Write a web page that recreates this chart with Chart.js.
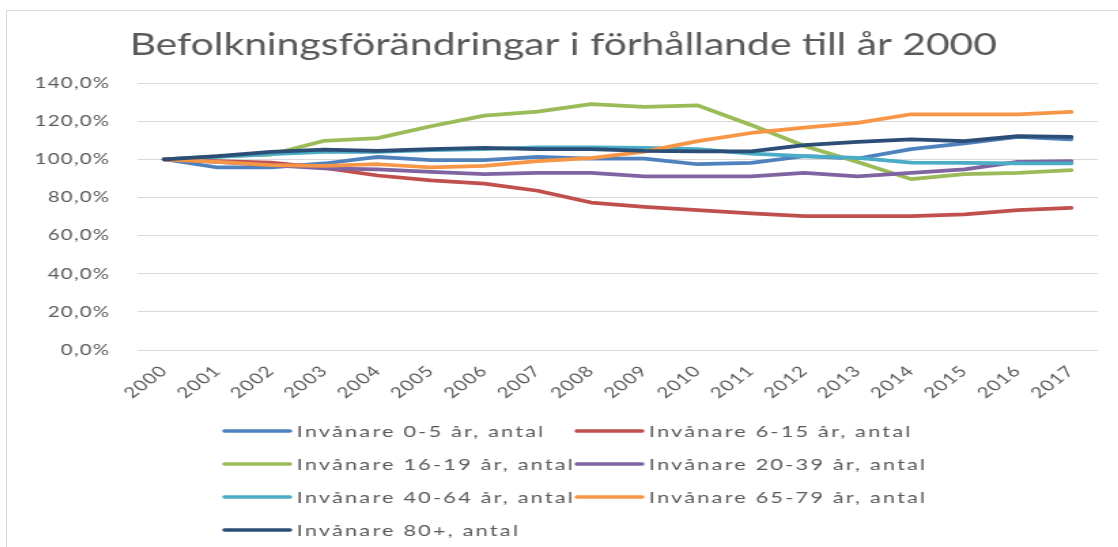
<!DOCTYPE html>
<html>
<head>
<meta charset="utf-8">
<title>Befolkningsförändringar</title>
<script src="https://cdn.jsdelivr.net/npm/chart.js"></script>
<style>
    body { margin: 0; background: #fff; }
    #ram {
        position: absolute; left: 6px; top: 10px; width: 1112px; height: 537px;
        border-left: 1px solid #d9d9d9; border-top: 1px solid #d9d9d9; overflow: hidden;
    }
    /* originalet är utdraget på bredden, så ritytan sträcks likadant */
    #grafico {
        position: absolute; left: 0; top: 0; width: 818px; height: 537px;
        transform: scaleX(1.36); transform-origin: 0 0;
    }
</style>
</head>
<body>
<div id="ram"><div id="grafico"><canvas id="diagram"></canvas></div></div>
<script>
const anni = ['2000','2001','2002','2003','2004','2005','2006','2007','2008','2009','2010','2011','2012','2013','2014','2015','2016','2017']

const eta0_5   = [100, 95.7, 95.7, 97.8, 101.3, 99.5, 99.5, 101.3, 100.4, 100.4, 97.4, 98.1, 101.6, 100.4, 105.3, 108.3, 111.7, 110.5]
const eta6_15  = [100, 99.0, 98.3, 95.5, 91.5, 89.0, 87.2, 83.5, 77.3, 75.1, 73.3, 71.6, 70.2, 70.2, 70.2, 71.1, 73.3, 74.5]
const eta16_19 = [100, 101.5, 102.5, 109.7, 111.1, 117.3, 122.9, 125.0, 128.9, 127.5, 128.3, 118.0, 107.0, 98.6, 89.6, 92.2, 92.9, 94.3]
const eta20_39 = [100, 98.6, 96.9, 95.2, 94.7, 93.4, 92.2, 92.9, 92.9, 91.1, 91.1, 91.1, 92.9, 91.1, 92.9, 94.7, 98.6, 99.0]
const eta40_64 = [100, 101.3, 102.7, 103.9, 103.9, 104.8, 105.3, 106.2, 106.2, 106.0, 105.3, 103.0, 101.6, 100.7, 98.3, 98.1, 97.8, 97.8]
const eta65_79 = [100, 98.6, 96.9, 96.5, 97.4, 95.7, 96.5, 99.0, 100.6, 104.0, 109.5, 113.8, 116.6, 119.1, 123.6, 123.6, 123.6, 124.8]
const eta80    = [100, 101.6, 103.9, 105.1, 104.4, 105.3, 106.0, 105.3, 105.3, 104.4, 104.2, 104.2, 107.4, 109.1, 110.4, 109.5, 112.1, 111.7]

const nomi = ['Invånare 0-5 år, antal', 'Invånare 6-15 år, antal', 'Invånare 16-19 år, antal', 'Invånare 20-39 år, antal',
              'Invånare 40-64 år, antal', 'Invånare 65-79 år, antal', 'Invånare 80+, antal']
const valori = [eta0_5, eta6_15, eta16_19, eta20_39, eta40_64, eta65_79, eta80]
const colori = ['#4F81BD', '#C0504D', '#9BBB59', '#8064A2', '#4BACC6', '#F79646', '#2C4D75']

const tickY = [0, 20, 40, 60, 80, 100, 120, 140]

const grigio = '#595959'
const font = 'Lato'

// axeltexterna ritas efter linjerna (ticks.z = 1), lite glesare som i originalet
const spaziatura = {
    id: 'spaziatura',
    afterDatasetsDraw(chart) {
        chart.ctx.letterSpacing = '0.9px'
    },
    afterDraw(chart) {
        chart.ctx.letterSpacing = '0px'
    }
}

// legenda i två kolumner, som i Excel
const legenda = {
    id: 'legenda',
    afterDraw(chart) {
        const ctx = chart.ctx
        const cx = chart.width / 2
        ctx.save()
        ctx.font = '16px ' + font
        ctx.letterSpacing = '1.6px'
        ctx.fillStyle = grigio
        ctx.textBaseline = 'middle'
        ctx.lineCap = 'round'
        ctx.lineWidth = 3.5
        chart.data.datasets.forEach((ds, i) => {
            let x = cx - 249 + (i % 2) * 259
            let y = chart.height - 117 + Math.floor(i / 2) * 33
            ctx.strokeStyle = ds.borderColor
            ctx.beginPath()
            ctx.moveTo(x, y)
            ctx.lineTo(x + 48, y)
            ctx.stroke()
            ctx.fillText(ds.label, x + 53, y + 1)
        })
        ctx.restore()
    }
}

new Chart(document.getElementById('diagram'), {
    type: 'line',
    data: {
        labels: anni,
        datasets: nomi.map((nome, i) => ({
            label: nome,
            data: valori[i],
            borderColor: colori[i],
            backgroundColor: colori[i],
            borderWidth: 3.75,
            borderCapStyle: 'round',
            borderJoinStyle: 'round',
            pointRadius: 0,
            tension: 0,
            order: nomi.length - i
        }))
    },
    options: {
        responsive: true,
        maintainAspectRatio: false,
        animation: false,
        layout: {
            padding: { top: 0, right: 16, bottom: 132, left: 16 }
        },
        plugins: {
            legend: { display: false },
            tooltip: { enabled: false },
            title: {
                display: true,
                text: 'Befolkningsförändringar i förhållande till år 2000',
                color: grigio,
                font: { family: font, size: 30, weight: 'normal' },
                padding: { top: 16, bottom: 20 }
            }
        },
        scales: {
            x: {
                offset: true,
                grid: { display: false },
                border: { display: false },
                ticks: {
                    color: grigio,
                    font: { family: font, size: 15 },
                    minRotation: 45,
                    maxRotation: 45,
                    padding: 4,
                    z: 1
                },
                afterFit: (scala) => { scala.height = 66 }
            },
            y: {
                min: 0,
                max: 140,
                afterBuildTicks: (scala) => { scala.ticks = tickY.map(v => ({ value: v })) },
                grid: { color: '#d9d9d9', lineWidth: 1, drawTicks: false },
                border: { display: false },
                ticks: {
                    color: grigio,
                    font: { family: font, size: 15 },
                    padding: 20,
                    z: 1,
                    callback: (v) => v.toFixed(1).replace('.', ',') + '%'
                },
                afterFit: (scala) => { scala.width = 80 }
            }
        }
    },
    plugins: [spaziatura, legenda]
})
</script>
</body>
</html>
